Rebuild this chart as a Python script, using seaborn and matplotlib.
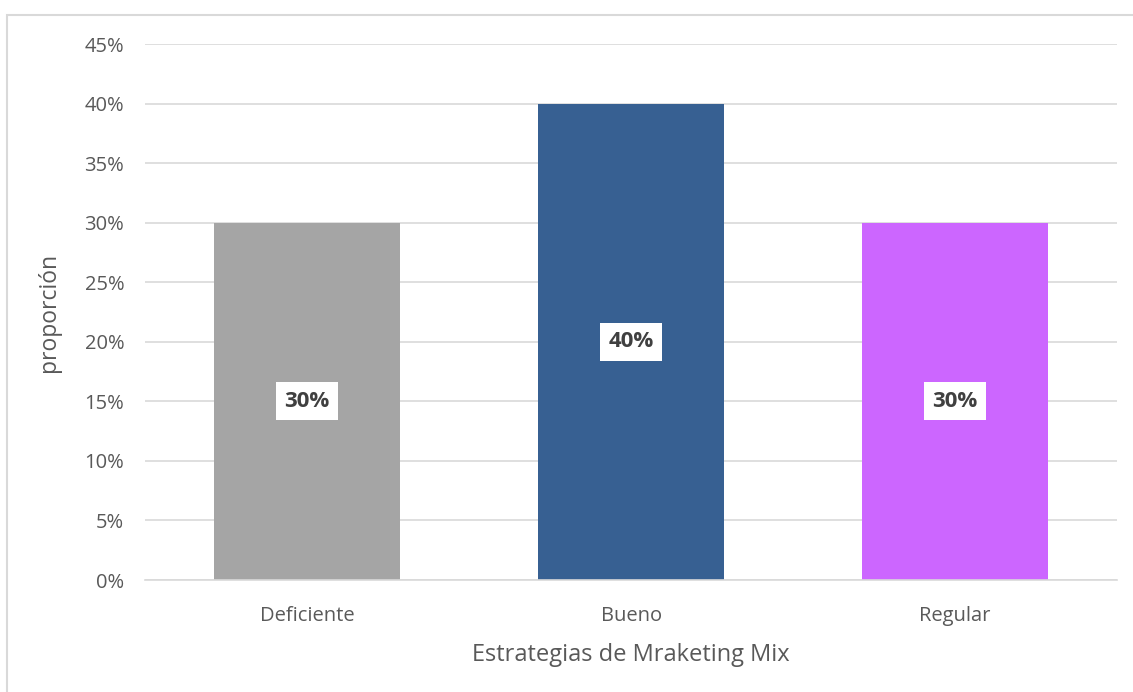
import matplotlib
matplotlib.use("Agg")
import matplotlib.pyplot as plt
import seaborn as sns
import pandas as pd
from matplotlib.patches import Rectangle
from matplotlib.ticker import MultipleLocator, FuncFormatter

categories = ["Deficiente", "Bueno", "Regular"]
values = [0.30, 0.40, 0.30]
colors = ["#A5A5A5", "#376092", "#CC66FF"]

df = pd.DataFrame({"cat": categories, "val": values})

sns.set_theme(style="white")
plt.rcParams["font.family"] = ["Open Sans", "DejaVu Sans"]

fig = plt.figure(figsize=(11.33, 6.92), dpi=100)
ax = fig.add_axes([0.128, 0.1618, 0.858, 0.7746])

sns.barplot(data=df, x="cat", y="val", hue="cat", palette=colors, width=0.575,
            legend=False, ax=ax, saturation=1, linewidth=0)

ax.set_ylim(0, 0.45)
ax.set_xlim(-0.5, 2.5)
ax.yaxis.set_major_locator(MultipleLocator(0.05))
ax.yaxis.set_major_formatter(FuncFormatter(lambda v, p: f"{v*100:.0f}%"))
ax.grid(axis="y", color="#D9D9D9", linewidth=1.2)
ax.set_axisbelow(True)
for s in ["top", "right", "left"]:
    ax.spines[s].set_visible(False)
ax.spines["bottom"].set_color("#D9D9D9")
ax.spines["bottom"].set_linewidth(1.2)
ax.tick_params(axis="both", length=0, labelsize=14.5, labelcolor="#595959")
ax.tick_params(axis="x", pad=19)
ax.tick_params(axis="y", pad=15)

ax.set_xlabel("Estrategias de Mraketing Mix", fontsize=17, color="#595959", labelpad=12)
ax.set_ylabel("proporción", fontsize=16.5, color="#595959", labelpad=17)

for i, v in enumerate(values):
    ax.text(i, v / 2, f"{v*100:.0f}%", ha="center", va="center", fontsize=16,
            fontweight="bold", color="#404040",
            bbox=dict(boxstyle="square,pad=0.38", facecolor="white", edgecolor="none"))

fig.patches.append(Rectangle((7 / 1133, -0.1), 1.2, 1.1 - 15 / 692,
                             transform=fig.transFigure, fill=False,
                             edgecolor="#D9D9D9", linewidth=1.5))

fig.savefig("out.png", dpi=100)
